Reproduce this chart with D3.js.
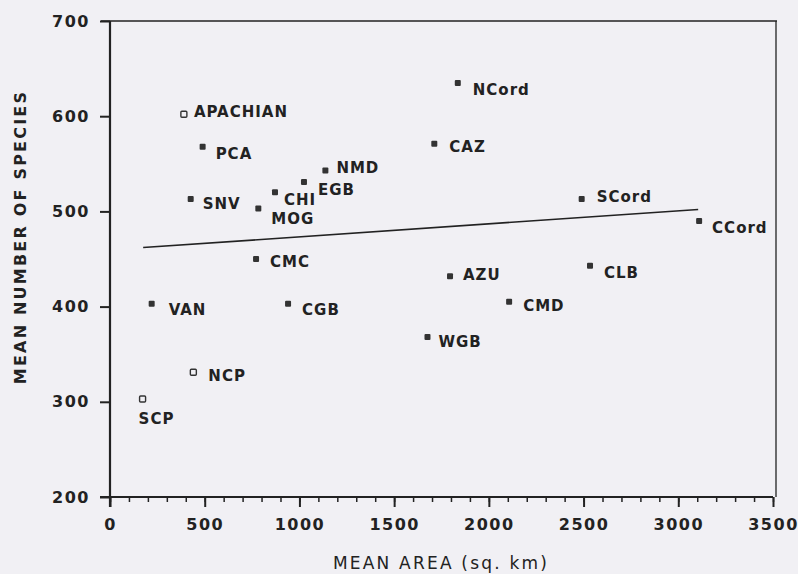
<!DOCTYPE html>
<html>
<head>
<meta charset="utf-8">
<script src="https://cdn.jsdelivr.net/npm/d3@7"></script>
<style>
  body { margin: 0; background: #f1f0f4; }
  svg text { font-family: "DejaVu Sans", sans-serif; font-weight: bold; fill: #222; }
</style>
</head>
<body>
<div id="chart"></div>
<script>
// datos
const regiones = ["APACHIAN", "PCA", "NMD", "EGB", "CHI", "SNV", "MOG", "CMC", "NCord", "CAZ",
                  "SCord", "CCord", "AZU", "CLB", "VAN", "CGB", "WGB", "CMD", "NCP", "SCP"];
const areaMedia = [390, 489, 1137, 1024, 871, 426, 783, 771, 1836, 1712,
                   2490, 3110, 1795, 2534, 220, 940, 1676, 2107, 440, 172];
const especiesMedia = [602, 568, 543, 531, 520, 513, 503, 450, 635, 571,
                       513, 490, 432, 443, 403, 403, 368, 405, 331, 303];
const marcadorAbierto = ["APACHIAN", "NCP", "SCP"];

// recta de regresion
const rectaX = [175, 3105];
const rectaY = [462, 502];

const xTicks = [0, 500, 1000, 1500, 2000, 2500, 3000, 3500];
const yTicks = [200, 300, 400, 500, 600, 700];

// donde va cada etiqueta respecto al punto
const offsets = {
  APACHIAN: [10, -2], PCA: [13, 7], NMD: [11, -2], EGB: [14, 8], CHI: [9, 8],
  SNV: [12, 5], MOG: [13, 10], CMC: [14, 3], NCord: [15, 7], CAZ: [15, 3],
  SCord: [15, -2], CCord: [13, 7], AZU: [13, -1], CLB: [14, 7], VAN: [17, 6],
  CGB: [14, 6], WGB: [11, 5], CMD: [14, 4], NCP: [15, 4], SCP: [-4, 20]
};

const data = regiones.map((r, i) => ({ region: r, area: areaMedia[i], especies: especiesMedia[i] }));

const svgWidth = 798, svgHeight = 574;
const svg = d3.select("#chart").append("svg")
  .attr("width", svgWidth)
  .attr("height", svgHeight);

const xScale = d3.scaleLinear().domain([0, 3500]).range([110, 773]);
const yScale = d3.scaleLinear().domain([200, 700]).range([497, 21]);

// marco superior y derecho
svg.append("line")
  .attr("x1", 101).attr("x2", 777)
  .attr("y1", yScale(700)).attr("y2", yScale(700))
  .attr("stroke", "#222").attr("stroke-width", 1.6);
svg.append("line")
  .attr("x1", 776).attr("x2", 776)
  .attr("y1", yScale(700)).attr("y2", yScale(200))
  .attr("stroke", "#222").attr("stroke-width", 1.3);

// eje x con ticks menores
const xAxis = svg.append("g")
  .attr("transform", `translate(0,${yScale(200)})`)
  .call(d3.axisBottom(xScale).tickValues(d3.range(0, 3501, 100)).tickSize(5).tickFormat(""));
xAxis.selectAll(".tick line").attr("stroke", "#222").attr("stroke-width", 1.5);
xAxis.select(".domain").remove();

const xMajor = svg.append("g")
  .attr("transform", `translate(0,${yScale(200)})`)
  .call(d3.axisBottom(xScale).tickValues(xTicks).tickSize(10).tickPadding(12).tickFormat(d3.format("d")));
xMajor.select(".domain").remove();
xMajor.selectAll(".tick line").attr("stroke", "#222").attr("stroke-width", 2);
xMajor.selectAll(".tick text")
  .style("font-size", "16px").style("letter-spacing", "1.5px")
  .style("font-family", "'DejaVu Sans', sans-serif").style("font-weight", "bold")
  .attr("fill", "#222");

svg.append("line")
  .attr("x1", 100).attr("x2", xScale(3500))
  .attr("y1", yScale(200)).attr("y2", yScale(200))
  .attr("stroke", "#222").attr("stroke-width", 2.2);

// eje y
const yAxis = svg.append("g")
  .attr("transform", `translate(${xScale(0)},0)`)
  .call(d3.axisLeft(yScale).tickValues(yTicks).tickSize(10).tickPadding(10).tickFormat(d3.format("d")));
yAxis.select(".domain").remove();
yAxis.selectAll(".tick line").attr("stroke", "#222").attr("stroke-width", 2);
yAxis.selectAll(".tick text")
  .style("font-size", "16px").style("letter-spacing", "1.5px")
  .style("font-family", "'DejaVu Sans', sans-serif").style("font-weight", "bold")
  .attr("fill", "#222");

svg.append("line")
  .attr("x1", xScale(0)).attr("x2", xScale(0))
  .attr("y1", yScale(700)).attr("y2", yScale(200) + 10)
  .attr("stroke", "#222").attr("stroke-width", 2.2);

// recta
svg.append("line")
  .attr("x1", xScale(rectaX[0])).attr("y1", yScale(rectaY[0]))
  .attr("x2", xScale(rectaX[1])).attr("y2", yScale(rectaY[1]))
  .attr("stroke", "#222").attr("stroke-width", 1.6);

// puntos
svg.selectAll(".punto")
  .data(data)
  .enter().append("rect")
  .attr("class", "punto")
  .attr("x", d => xScale(d.area) - 3)
  .attr("y", d => yScale(d.especies) - 3)
  .attr("width", 6)
  .attr("height", 6)
  .attr("rx", 1)
  .attr("fill", d => marcadorAbierto.includes(d.region) ? "#f1f0f4" : "#333")
  .attr("stroke", "#333")
  .attr("stroke-width", d => marcadorAbierto.includes(d.region) ? 1.4 : 0);

// etiquetas
svg.selectAll(".etiqueta")
  .data(data)
  .enter().append("text")
  .attr("class", "etiqueta")
  .attr("x", d => xScale(d.area) + offsets[d.region][0])
  .attr("y", d => yScale(d.especies) + offsets[d.region][1])
  .attr("dominant-baseline", "central")
  .style("font-size", "15px")
  .style("letter-spacing", "1px")
  .text(d => d.region);

// titulos de ejes
svg.append("text")
  .attr("x", 441).attr("y", 563)
  .attr("text-anchor", "middle")
  .attr("dominant-baseline", "central")
  .style("font-size", "17px")
  .style("font-weight", "normal")
  .style("letter-spacing", "2.2px")
  .text("MEAN AREA (sq. km)");

svg.append("text")
  .attr("transform", "rotate(-90)")
  .attr("x", -237).attr("y", 20)
  .attr("text-anchor", "middle")
  .attr("dominant-baseline", "central")
  .style("font-size", "16px")
  .style("letter-spacing", "2.2px")
  .text("MEAN NUMBER OF SPECIES");
</script>
</body>
</html>
